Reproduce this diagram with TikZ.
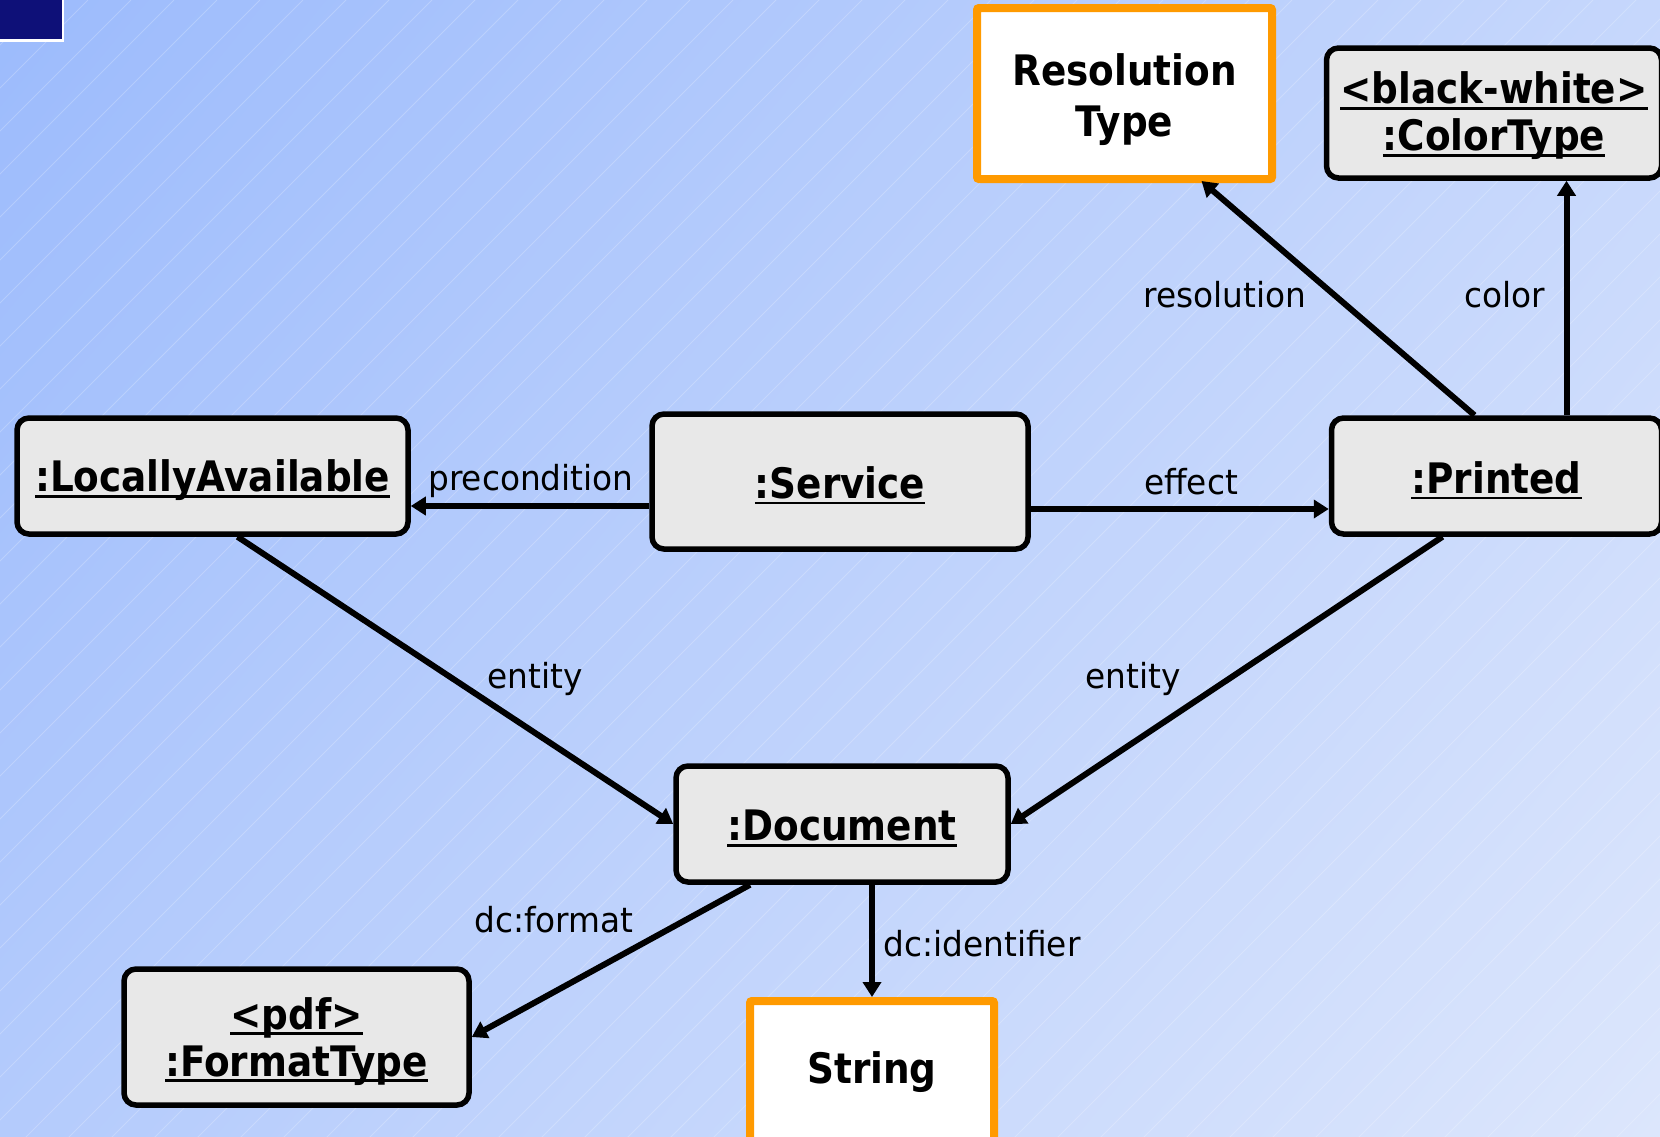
\documentclass[tikz,border=0pt]{standalone}
\usepackage{fontspec}
\setmainfont{DejaVu Sans}
\newfontfamily\objfam{DejaVu Sans}[FakeStretch=0.89]
\newfontfamily\lblfam{DejaVu Sans}[FakeStretch=0.95]
\usetikzlibrary{arrows.meta,calc,shadings}

\definecolor{bgUL}{HTML}{9CBBFC}
\definecolor{bgUR}{HTML}{C6D7FC}
\definecolor{bgLL}{HTML}{B4CBFC}
\definecolor{bgLR}{HTML}{DCE6FC}
\definecolor{cornerblue}{HTML}{0E1078}
\definecolor{boxgray}{HTML}{E8E8E8}
\definecolor{typeorange}{HTML}{FF9A00}

% underline drawn at a fixed depth, crossing the descenders
\newcommand\ulin[1]{\setbox0=\hbox{#1}\makebox[0pt][l]{\rule[-6pt]{\wd0}{2.6pt}}\box0}
% two centred lines, reference point on the last baseline
\newcommand\twolines[2]{\begin{tabular}[b]{@{}c@{}}#1\\#2\end{tabular}}
\newcommand\objfont{\objfam\fontsize{42}{47}\selectfont\bfseries}
\newcommand\lblfont{\lblfam\fontsize{34.5}{40}\selectfont}

\tikzset{
  obj/.style={draw=black, line width=5.5pt, fill=boxgray, rounded corners=12pt,
    inner sep=0pt, font=\objfont, text depth=0pt},
  typ/.style={draw=typeorange, line width=8pt, fill=white, rounded corners=2pt,
    inner sep=0pt, font=\objfont, text depth=0pt},
  lbl/.style={font=\lblfont, inner sep=0pt},
  arr/.style={line width=6pt, -{Triangle[length=15pt,width=18pt]}},
  hatch/.style={white, line width=0.8pt, opacity=0.22}
}

\begin{document}
\begin{tikzpicture}[x=1pt,y=-1pt]
  \useasboundingbox (0,0) rectangle (1660,1136);

  % slide background: diagonal gradient with faint hatching
  \shade[upper left=bgUL, upper right=bgUR, lower left=bgLL, lower right=bgLR]
    (0,0) rectangle (1660,1136);
  \begin{scope}
    \clip (0,0) rectangle (1660,1136);
    \foreach \i in {-2,...,66}
      \draw[hatch] (\i*43+2,0) -- ++(-1200,1200);
  \end{scope}
  \fill[white] (0,0) rectangle (64,42);
  \fill[cornerblue] (0,0) rectangle (62,39);

  % objects
  \node[obj, minimum width=391pt, minimum height=116pt, text height=31.5pt] (la)  at (212.5,476)  {\ulin{:LocallyAvailable}};
  \node[obj, minimum width=376pt, minimum height=135pt, text height=33.5pt] (svc) at (840,481.5)  {\ulin{:Service}};
  \node[obj, minimum width=330pt, minimum height=116pt, text height=34.5pt] (prt) at (1496.5,476) {\ulin{:Printed}};
  \node[obj, minimum width=335pt, minimum height=130pt, text height=75pt]   (col) at (1494,113)
    {\twolines{\ulin{<black-white>}}{\ulin{:ColorType}}};
  \node[obj, minimum width=332pt, minimum height=116pt, text height=33.5pt] (doc) at (842,824)    {\ulin{:Document}};
  \node[obj, minimum width=345pt, minimum height=136pt, text height=78pt]   (fmt) at (296.5,1037)
    {\twolines{\ulin{<pdf>}}{\ulin{:FormatType}}};

  % types
  \node[typ, minimum width=295pt, minimum height=171pt, text height=85pt] (res) at (1124.5,93.5)
    {\fontsize{42}{51}\selectfont\twolines{Resolution}{Type}};
  \node[typ, minimum width=244pt, minimum height=142pt, text height=22pt] (str) at (872,1072) {String};

  % properties
  \coordinate (colstart) at ($(prt.north)+(70,0)$);
  \draw[arr] (svc.west |- 0,506) -- (la.east |- 0,506);
  \draw[arr] (svc.east |- 0,509) -- (prt.west |- 0,509);
  \draw[arr] ($(prt.north)+(-22,0)$) -- ($(res.south)+(77,-2)$);
  \draw[arr] (colstart) -- (col.south -| colstart);
  \draw[arr] ($(la.south)+(25,0)$) -- (doc.west);
  \draw[arr] ($(prt.south)+(-54,0)$) -- (doc.east);
  \draw[arr] ($(doc.south)+(-92,0)$) -- (fmt.east);
  \draw[arr] (doc.south -| str.north) -- (str.north);

  % property labels
  \node[lbl] (lpre) at (531,481) {precondition};
  \node[lbl] (leff) at (1191,482) {effect};
  \node[lbl] (lres) at (1225,295) {resolution};
  \node[lbl] (lcol) at (1505,295) {color};
  \node[lbl] (lenl) at (535,679) {entity};
  \node[lbl] (lenr) at (1133,679) {entity};
  \node[lbl] (lfmt) at (554,920) {dc:format};
  \node[lbl] (lid)  at (982,944) {dc:identifier};
\end{tikzpicture}
\end{document}
